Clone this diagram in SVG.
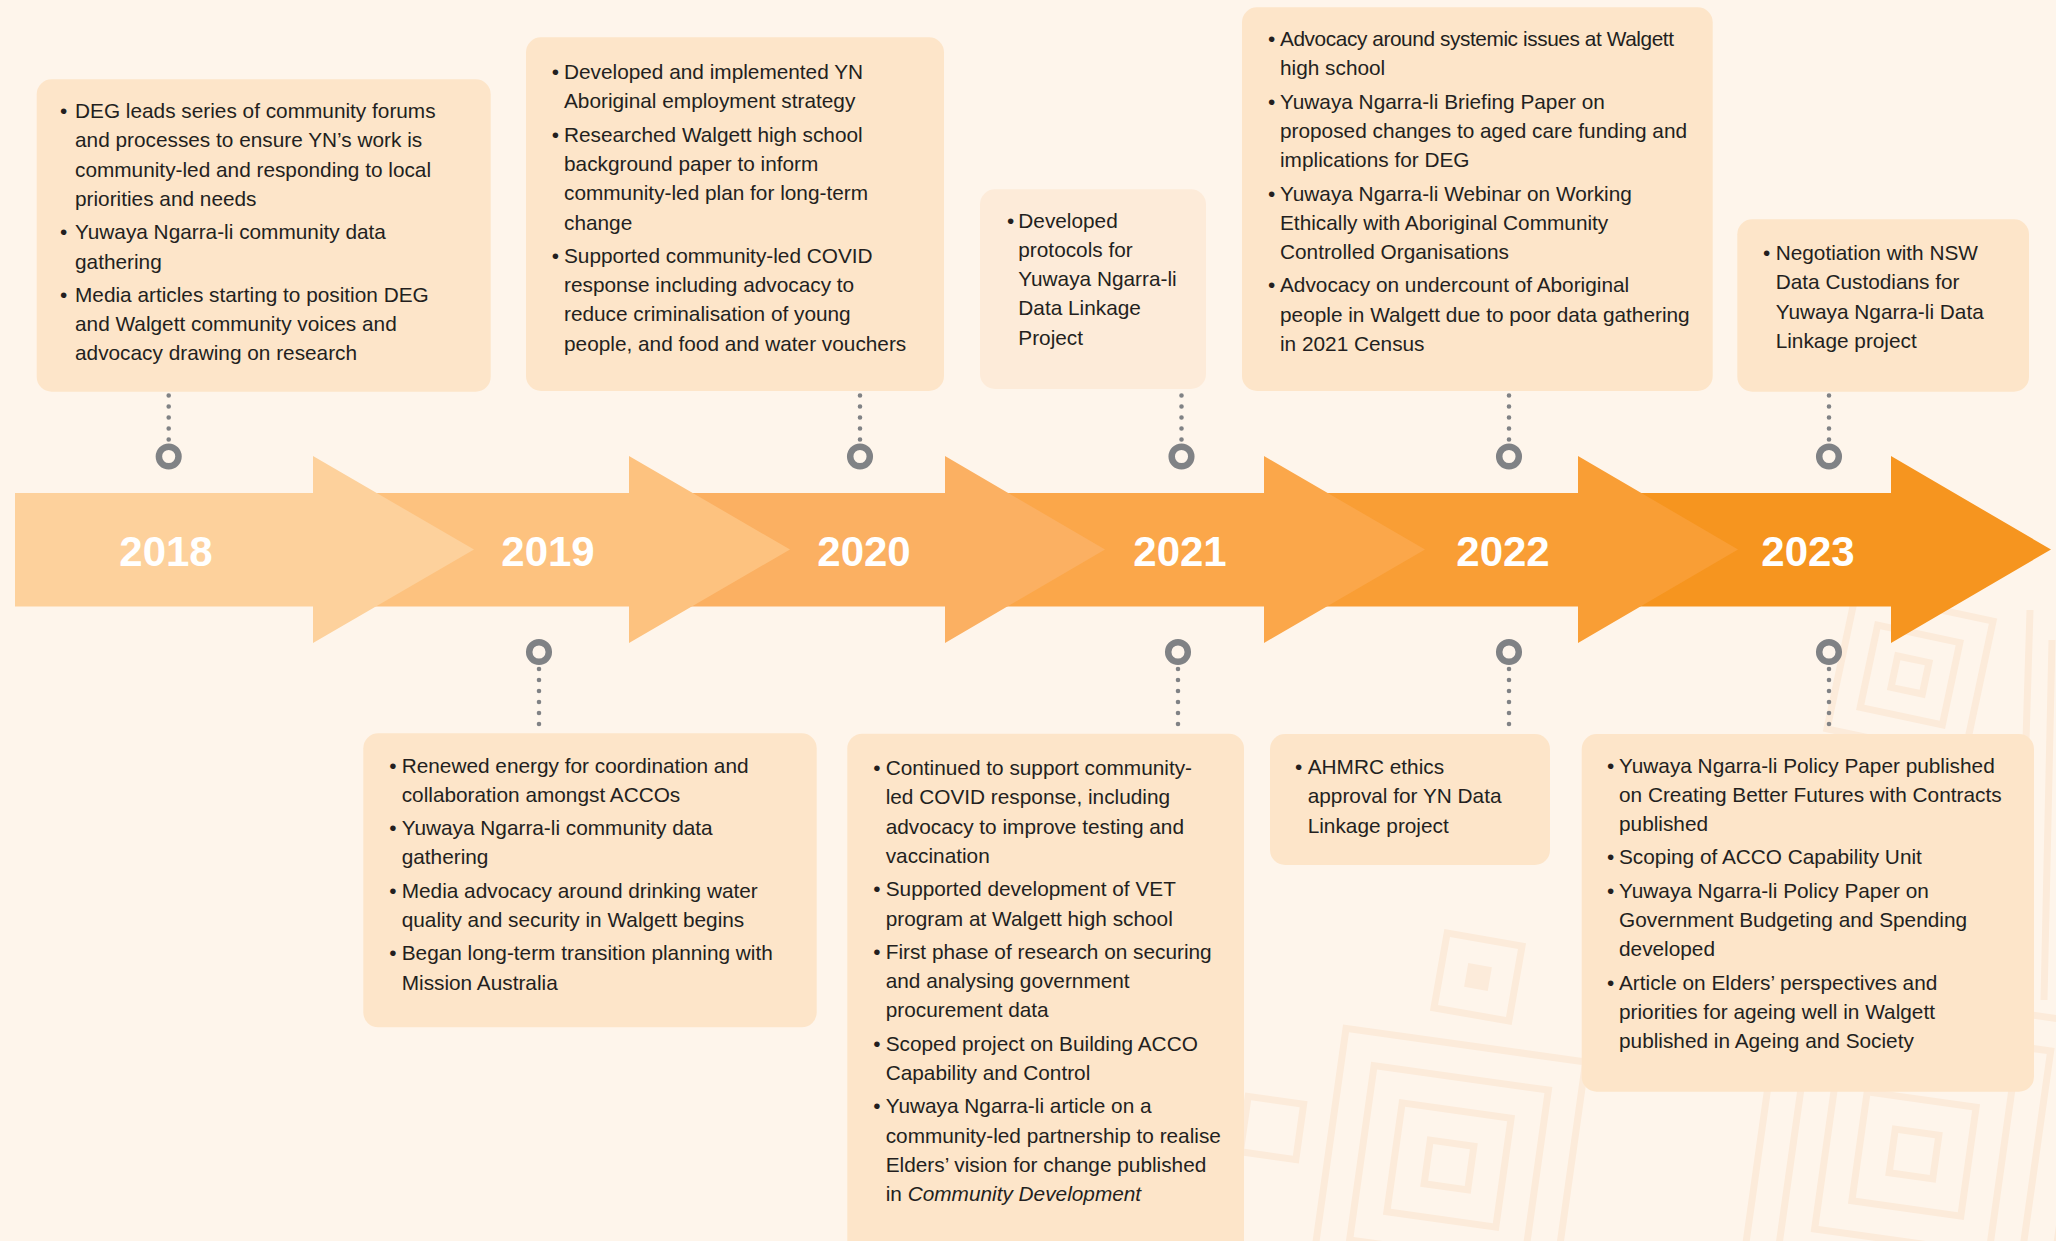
<svg xmlns="http://www.w3.org/2000/svg" width="2056" height="1241" viewBox="0 0 2056 1241">
<style>
.bg{fill:#FEF5EB}
.pat{fill:none;stroke:#FCEBDA;stroke-width:7}
.box{fill:#FDE5C9}
.boxl{fill:#FDEBD9}
.t{font-family:"Liberation Sans",Arial,sans-serif;font-size:20.8px;fill:#231F20}
.yr{font-family:"Liberation Sans",Arial,sans-serif;font-size:42px;font-weight:bold;fill:#FFFFFF;text-anchor:middle}
.dot{stroke:#808285;stroke-width:4.6;stroke-linecap:round;stroke-dasharray:0 11;fill:none}
.ring{fill:none;stroke:#808285;stroke-width:6.5}
</style>
<rect class="bg" x="0" y="0" width="2056" height="1241"/>
<g id="pattern">
<g transform="translate(1910,675) rotate(12)"><rect class="pat" x="-16" y="-16" width="32" height="32"/><rect class="pat" x="-42" y="-42" width="84" height="84"/><rect class="pat" x="-70" y="-70" width="140" height="140"/></g>
<g transform="translate(1478,977) rotate(10)"><rect x="-12" y="-12" width="24" height="24" fill="#FCEBDA"/><rect class="pat" x="-38" y="-38" width="76" height="76"/></g>
<g transform="translate(1449,1165) rotate(8)"><rect class="pat" x="-22" y="-22" width="44" height="44"/><rect class="pat" x="-55" y="-55" width="110" height="110"/><rect class="pat" x="-88" y="-88" width="176" height="176"/><rect class="pat" x="-121" y="-121" width="242" height="242"/></g>
<g transform="translate(1272,1128) rotate(8)"><rect class="pat" x="-28" y="-28" width="56" height="56"/></g>
<g transform="translate(1914,1154) rotate(8)"><rect class="pat" x="-22" y="-22" width="44" height="44"/><rect class="pat" x="-55" y="-55" width="110" height="110"/><rect class="pat" x="-88" y="-88" width="176" height="176"/><rect class="pat" x="-121" y="-121" width="242" height="242"/><rect class="pat" x="-154" y="-154" width="308" height="308"/></g>
<path class="pat" d="M2030 610 L2018 1000 M2052 640 L2044 1000"/>
</g>
<g id="timeline">
<polygon fill="#F6951F" points="1578,493 1891,493 1891,456 2051,549.5 1891,643 1891,606.5 1578,606.5"/>
<polygon fill="#F99E35" points="1264,493 1578,493 1578,456 1738,549.5 1578,643 1578,606.5 1264,606.5"/>
<polygon fill="#FBA74A" points="945,493 1264,493 1264,456 1425,549.5 1264,643 1264,606.5 945,606.5"/>
<polygon fill="#FBB062" points="629,493 945,493 945,456 1105,549.5 945,643 945,606.5 629,606.5"/>
<polygon fill="#FDC27F" points="313,493 629,493 629,456 790,549.5 629,643 629,606.5 313,606.5"/>
<polygon fill="#FDD19C" points="15,493 313,493 313,456 474,549.5 313,643 313,606.5 15,606.5"/>
<text class="yr" x="166" y="566">2018</text>
<text class="yr" x="548" y="566">2019</text>
<text class="yr" x="864" y="566">2020</text>
<text class="yr" x="1180" y="566">2021</text>
<text class="yr" x="1503" y="566">2022</text>
<text class="yr" x="1808" y="566">2023</text>
</g>
<g id="connectors">
<line class="dot" x1="168.7" y1="395.5" x2="168.7" y2="440"/>
<line class="dot" x1="860" y1="395.5" x2="860" y2="440"/>
<line class="dot" x1="1181.5" y1="395.5" x2="1181.5" y2="440"/>
<line class="dot" x1="1509" y1="395.5" x2="1509" y2="440"/>
<line class="dot" x1="1829" y1="395.5" x2="1829" y2="440"/>
<circle class="ring" cx="168.7" cy="456.5" r="9.8"/>
<circle class="ring" cx="860" cy="456.5" r="9.8"/>
<circle class="ring" cx="1181.5" cy="456.5" r="9.8"/>
<circle class="ring" cx="1509" cy="456.5" r="9.8"/>
<circle class="ring" cx="1829" cy="456.5" r="9.8"/>
<line class="dot" x1="539" y1="669" x2="539" y2="726"/>
<line class="dot" x1="1178" y1="669" x2="1178" y2="726"/>
<line class="dot" x1="1509" y1="669" x2="1509" y2="726"/>
<line class="dot" x1="1829" y1="669" x2="1829" y2="726"/>
<circle class="ring" cx="539" cy="652" r="9.8"/>
<circle class="ring" cx="1178" cy="652" r="9.8"/>
<circle class="ring" cx="1509" cy="652" r="9.8"/>
<circle class="ring" cx="1829" cy="652" r="9.8"/>
</g>
<g id="box-2018">
<rect class="box" x="36.7" y="79.3" width="454" height="312.4" rx="15"/>
<text class="t"><tspan x="60" y="118">•</tspan><tspan x="60" y="239.2">•</tspan><tspan x="60" y="301.8">•</tspan></text>
<text class="t"><tspan x="75" y="118">DEG leads series of community forums</tspan><tspan x="75" y="147.3">and processes to ensure YN’s work is</tspan><tspan x="75" y="176.6">community-led and responding to local</tspan><tspan x="75" y="205.9">priorities and needs</tspan><tspan x="75" y="239.2">Yuwaya Ngarra-li community data</tspan><tspan x="75" y="268.5">gathering</tspan><tspan x="75" y="301.8">Media articles starting to position DEG</tspan><tspan x="75" y="331.1">and Walgett community voices and</tspan><tspan x="75" y="360.4">advocacy drawing on research</tspan></text>
</g>
<g id="box-2020">
<rect class="box" x="526" y="37.3" width="418" height="353.7" rx="15"/>
<text class="t"><tspan x="551.7" y="79">•</tspan><tspan x="551.7" y="141.6">•</tspan><tspan x="551.7" y="262.8">•</tspan></text>
<text class="t"><tspan x="564" y="79">Developed and implemented YN</tspan><tspan x="564" y="108.3">Aboriginal employment strategy</tspan><tspan x="564" y="141.6">Researched Walgett high school</tspan><tspan x="564" y="170.9">background paper to inform</tspan><tspan x="564" y="200.2">community-led plan for long-term</tspan><tspan x="564" y="229.5">change</tspan><tspan x="564" y="262.8">Supported community-led COVID</tspan><tspan x="564" y="292.1">response including advocacy to</tspan><tspan x="564" y="321.4">reduce criminalisation of young</tspan><tspan x="564" y="350.7">people, and food and water vouchers</tspan></text>
</g>
<g id="box-2021-top">
<rect class="boxl" x="980" y="189.3" width="226" height="199.7" rx="15"/>
<text class="t"><tspan x="1007" y="227.5">•</tspan></text>
<text class="t"><tspan x="1018.3" y="227.5">Developed</tspan><tspan x="1018.3" y="256.8">protocols for</tspan><tspan x="1018.3" y="286.1">Yuwaya Ngarra-li</tspan><tspan x="1018.3" y="315.4">Data Linkage</tspan><tspan x="1018.3" y="344.7">Project</tspan></text>
</g>
<g id="box-2022-top">
<rect class="box" x="1242" y="7.3" width="470.7" height="383.7" rx="15"/>
<text class="t"><tspan x="1268" y="46">•</tspan><tspan x="1268" y="108.6">•</tspan><tspan x="1268" y="200.5">•</tspan><tspan x="1268" y="292.4">•</tspan></text>
<text class="t" x="1280" y="46" textLength="394" lengthAdjust="spacing">Advocacy around systemic issues at Walgett</text>
<text class="t"><tspan x="1280" y="75.3">high school</tspan><tspan x="1280" y="108.6">Yuwaya Ngarra-li Briefing Paper on</tspan><tspan x="1280" y="137.9">proposed changes to aged care funding and</tspan><tspan x="1280" y="167.2">implications for DEG</tspan><tspan x="1280" y="200.5">Yuwaya Ngarra-li Webinar on Working</tspan><tspan x="1280" y="229.8">Ethically with Aboriginal Community</tspan><tspan x="1280" y="259.1">Controlled Organisations</tspan><tspan x="1280" y="292.4">Advocacy on undercount of Aboriginal</tspan><tspan x="1280" y="321.7">people in Walgett due to poor data gathering</tspan><tspan x="1280" y="351">in 2021 Census</tspan></text>
</g>
<g id="box-2023-top">
<rect class="box" x="1737.3" y="219.3" width="291.7" height="172.4" rx="15"/>
<text class="t"><tspan x="1763" y="260">•</tspan></text>
<text class="t"><tspan x="1775.7" y="260">Negotiation with NSW</tspan><tspan x="1775.7" y="289.3">Data Custodians for</tspan><tspan x="1775.7" y="318.6">Yuwaya Ngarra-li Data</tspan><tspan x="1775.7" y="347.9">Linkage project</tspan></text>
</g>
<g id="box-2019">
<rect class="box" x="363.3" y="733.3" width="453.4" height="294" rx="15"/>
<text class="t"><tspan x="389.3" y="772.5">•</tspan><tspan x="389.3" y="835.1">•</tspan><tspan x="389.3" y="897.7">•</tspan><tspan x="389.3" y="960.3">•</tspan></text>
<text class="t"><tspan x="401.7" y="772.5">Renewed energy for coordination and</tspan><tspan x="401.7" y="801.8">collaboration amongst ACCOs</tspan><tspan x="401.7" y="835.1">Yuwaya Ngarra-li community data</tspan><tspan x="401.7" y="864.4">gathering</tspan><tspan x="401.7" y="897.7">Media advocacy around drinking water</tspan><tspan x="401.7" y="927">quality and security in Walgett begins</tspan><tspan x="401.7" y="960.3">Began long-term transition planning with</tspan><tspan x="401.7" y="989.6">Mission Australia</tspan></text>
</g>
<g id="box-2021-bottom">
<rect class="box" x="847.3" y="733.7" width="396.7" height="540" rx="15"/>
<text class="t"><tspan x="873.3" y="775">•</tspan><tspan x="873.3" y="896.2">•</tspan><tspan x="873.3" y="958.8">•</tspan><tspan x="873.3" y="1050.7">•</tspan><tspan x="873.3" y="1113.3">•</tspan></text>
<text class="t"><tspan x="885.7" y="775">Continued to support community-</tspan><tspan x="885.7" y="804.3">led COVID response, including</tspan><tspan x="885.7" y="833.6">advocacy to improve testing and</tspan><tspan x="885.7" y="862.9">vaccination</tspan><tspan x="885.7" y="896.2">Supported development of VET</tspan><tspan x="885.7" y="925.5">program at Walgett high school</tspan><tspan x="885.7" y="958.8">First phase of research on securing</tspan><tspan x="885.7" y="988.1">and analysing government</tspan><tspan x="885.7" y="1017.4">procurement data</tspan><tspan x="885.7" y="1050.7">Scoped project on Building ACCO</tspan><tspan x="885.7" y="1080">Capability and Control</tspan><tspan x="885.7" y="1113.3">Yuwaya Ngarra-li article on a</tspan><tspan x="885.7" y="1142.6">community-led partnership to realise</tspan><tspan x="885.7" y="1171.9">Elders’ vision for change published</tspan><tspan x="885.7" y="1201.2">in <tspan font-style="italic">Community Development</tspan></tspan></text>
</g>
<g id="box-2022-bottom">
<rect class="box" x="1270" y="734" width="280" height="131" rx="15"/>
<text class="t"><tspan x="1295" y="774">•</tspan></text>
<text class="t"><tspan x="1307.7" y="774">AHMRC ethics</tspan><tspan x="1307.7" y="803.3">approval for YN Data</tspan><tspan x="1307.7" y="832.6">Linkage project</tspan></text>
</g>
<g id="box-2023-bottom">
<rect class="box" x="1581.7" y="734" width="452.3" height="357.7" rx="15"/>
<text class="t"><tspan x="1607" y="772.5">•</tspan><tspan x="1607" y="864.4">•</tspan><tspan x="1607" y="897.7">•</tspan><tspan x="1607" y="989.6">•</tspan></text>
<text class="t"><tspan x="1619" y="772.5">Yuwaya Ngarra-li Policy Paper published</tspan><tspan x="1619" y="801.8">on Creating Better Futures with Contracts</tspan><tspan x="1619" y="831.1">published</tspan><tspan x="1619" y="864.4">Scoping of ACCO Capability Unit</tspan><tspan x="1619" y="897.7">Yuwaya Ngarra-li Policy Paper on</tspan><tspan x="1619" y="927">Government Budgeting and Spending</tspan><tspan x="1619" y="956.3">developed</tspan><tspan x="1619" y="989.6">Article on Elders’ perspectives and</tspan><tspan x="1619" y="1018.9">priorities for ageing well in Walgett</tspan><tspan x="1619" y="1048.2">published in Ageing and Society</tspan></text>
</g>
</svg>
